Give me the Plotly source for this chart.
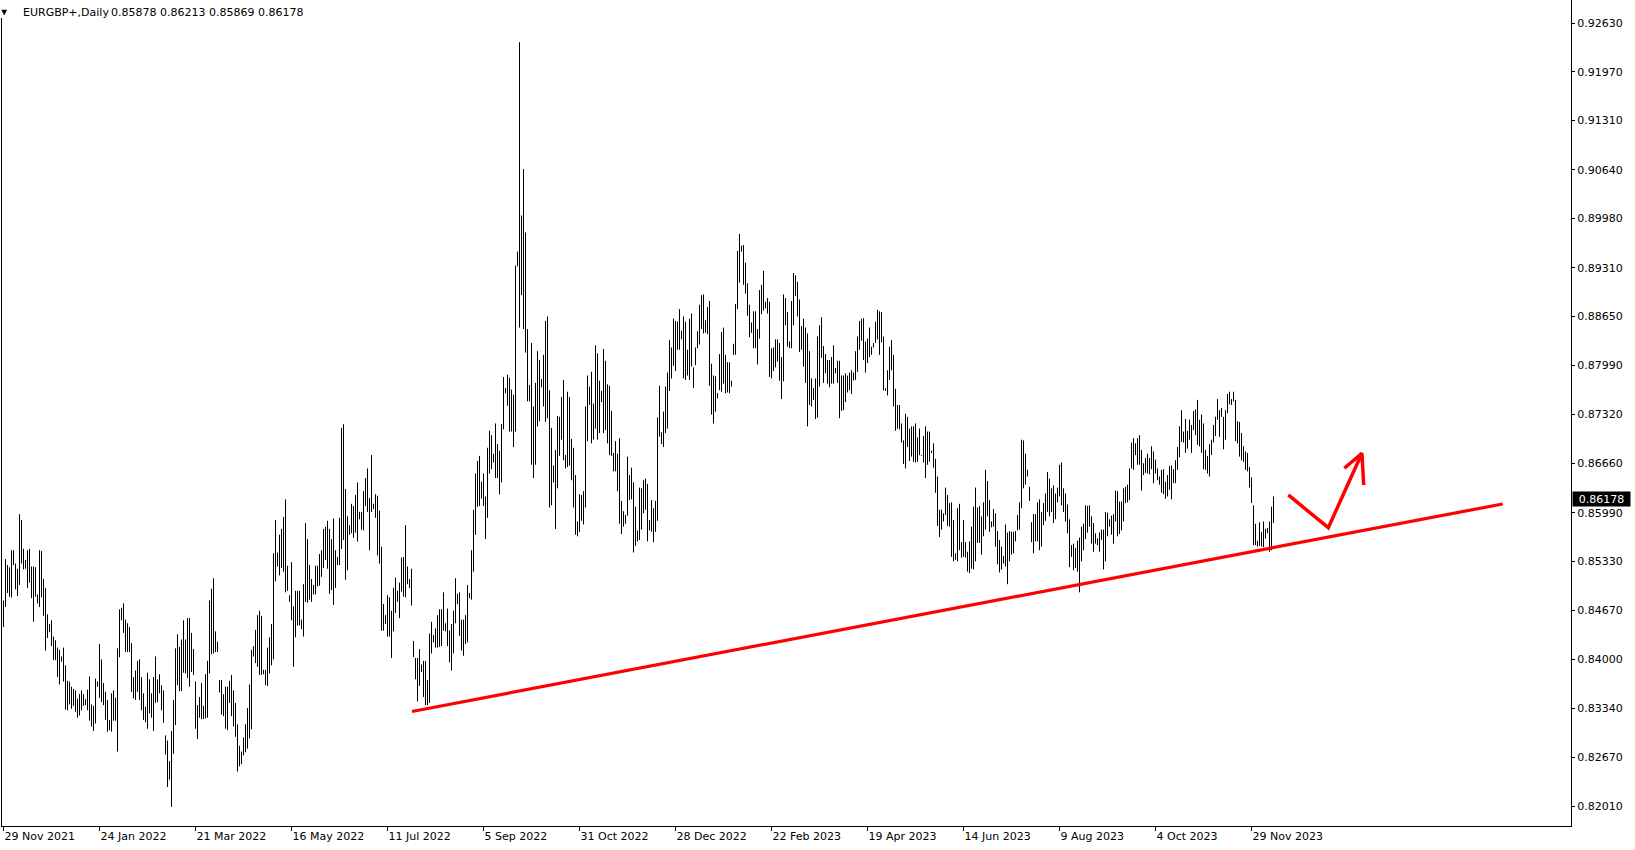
import plotly.graph_objects as go

symbol_title = "EURGBP+,Daily"
last_ohlc_text = "0.85878 0.86213 0.85869 0.86178"
last_close = 0.86178

highs = [
    0.8480,0.8536,0.8528,0.8525,0.8548,0.8548,0.8530,0.8523,0.8597,0.8589,
    0.8550,0.8535,0.8548,0.8550,0.8526,0.8526,0.8525,0.8488,0.8548,0.8547,
    0.8509,0.8497,0.8461,0.8448,0.8453,0.8431,0.8426,0.8416,0.8413,0.8404,
    0.8416,0.8392,0.8371,0.8370,0.8363,0.8360,0.8358,0.8347,0.8353,0.8358,
    0.8353,0.8346,0.8359,0.8377,0.8339,0.8337,0.8374,0.8370,0.8421,0.8400,
    0.8368,0.8356,0.8345,0.8318,0.8354,0.8358,0.8348,0.8415,0.8468,0.8470,
    0.8476,0.8454,0.8449,0.8444,0.8422,0.8376,0.8385,0.8398,0.8400,0.8376,
    0.8354,0.8336,0.8382,0.8373,0.8354,0.8376,0.8404,0.8373,0.8380,0.8365,
    0.8358,0.8297,0.8290,0.8262,0.8303,0.8345,0.8415,0.8434,0.8417,0.8427,
    0.8453,0.8427,0.8456,0.8456,0.8436,0.8414,0.8370,0.8338,0.8349,0.8368,
    0.8337,0.8380,0.8398,0.8480,0.8496,0.8510,0.8438,0.8424,0.8372,0.8372,
    0.8353,0.8363,0.8363,0.8371,0.8379,0.8358,0.8341,0.8312,0.8283,0.8275,
    0.8294,0.8312,0.8334,0.8366,0.8413,
    0.8418,0.8440,0.8460,0.8466,0.8459,0.8386,0.8386,0.8416,0.8430,0.8448,
    0.8544,0.8589,0.8545,0.8569,0.8577,0.8593,0.8617,0.8527,0.8487,0.8532,
    0.8472,0.8493,0.8493,0.8493,0.8454,0.8502,0.8585,0.8563,0.8528,0.8509,
    0.8501,0.8527,0.8527,0.8543,0.8548,0.8577,0.8580,0.8588,0.8577,0.8563,
    0.8591,0.8548,0.8539,0.8592,0.8714,0.8719,0.8631,0.8594,0.8582,0.8611,
    0.8608,0.8623,0.8640,0.8600,0.8600,0.8628,0.8646,0.8659,0.8619,0.8677,
    0.8611,0.8624,0.8622,0.8602,0.8553,0.8475,0.8460,0.8487,0.8484,0.8466,
    0.8497,0.8511,0.8493,0.8504,0.8538,0.8539,0.8582,0.8526,0.8509,0.8523,
    0.8425,0.8402,0.8402,0.8414,
    0.8393,0.8398,0.8398,0.8372,0.8435,0.8451,0.8433,0.8442,0.8460,0.8468,
    0.8468,0.8491,0.8449,0.8469,0.8439,0.8448,0.8466,0.8510,0.8489,0.8491,
    0.8454,0.8454,0.8460,0.8501,0.8490,0.8548,0.8603,
    0.8652,0.8669,0.8676,0.8641,0.8652,0.8621,0.8687,0.8710,0.8704,0.8679,
    0.8720,0.8692,0.8683,0.8719,0.8783,0.8768,0.8786,0.8782,0.8766,0.8759,
    0.8934,0.8953,0.9237,0.9002,0.9065,0.8979,0.8848,0.8772,0.8829,0.8743,
    0.8775,0.8818,0.8806,0.8780,0.8813,0.8859,0.8865,0.8765,0.8714,0.8663,
    0.8684,0.8730,0.8729,0.8756,0.8779,0.8677,0.8763,0.8756,0.8699,0.8687,
    0.8650,0.8587,0.8624,0.8623,0.8628,0.8743,0.8785,0.8770,0.8790,0.8747,
    0.8826,0.8815,0.8778,0.8764,0.8821,0.8805,0.8773,0.8771,0.8737,0.8680,
    0.8696,0.8679,0.8700,0.8615,0.8601,0.8596,0.8675,0.8650,0.8660,0.8640,
    0.8607,0.8575,0.8633,0.8632,0.8643,0.8645,0.8638,0.8589,0.8616,0.8605,
    0.8615,0.8728,0.8771,0.8708,0.8736,0.8770,0.8789,0.8833,0.8823,0.8862,
    0.8859,0.8858,0.8875,
    0.8846,0.8865,0.8858,0.8820,0.8862,0.8869,0.8796,0.8823,0.8845,0.8881,
    0.8894,0.8895,0.8860,0.8878,0.8886,0.8801,0.8785,0.8784,0.8761,0.8814,
    0.8844,0.8850,0.8813,0.8803,0.8803,0.8778,0.8828,0.8882,0.8954,0.8977,
    0.8961,0.8962,0.8938,0.8910,0.8881,0.8857,0.8872,0.8872,0.8848,0.8901,
    0.8908,0.8927,0.8885,0.8890,0.8885,0.8822,0.8823,0.8834,0.8834,0.8829,
    0.8810,0.8895,0.8890,0.8871,0.8831,0.8886,0.8924,0.8921,0.8912,0.8888,
    0.8852,0.8862,0.8850,0.8842,0.8818,0.8781,0.8768,0.8781,0.8838,0.8853,
    0.8864,0.8825,0.8814,0.8806,0.8806,0.8810,0.8826,0.8795,0.8805,0.8805,
    0.8785,0.8785,0.8788,0.8785,0.8789,0.8792,0.8789,0.8818,0.8838,0.8859,
    0.8862,0.8863,0.8831,0.8835,0.8850,0.8824,0.8829,0.8858,0.8874,0.8872,
    0.8871,0.8838,0.8768,0.8792,0.8824,0.8833,0.8813,0.8767,0.8745,0.8745,
    0.8720,0.8697,0.8733,0.8729,0.8713,0.8716,0.8716,0.8720,0.8701,0.8713,0.8677,
    0.8703,0.8716,0.8709,0.8709,0.8683,0.8693,0.8672,0.8648,0.8603,0.8603,
    0.8598,0.8633,0.8623,0.8612,0.8613,0.8589,0.8544,0.8605,
    0.8611,0.8559,0.8589,0.8559,0.8546,0.8560,0.8580,0.8607,0.8633,0.8606,
    0.8608,0.8594,0.8613,0.8657,0.8642,0.8616,0.8587,0.8604,0.8598,0.8574,
    0.8562,0.8553,0.8540,0.8583,0.8572,0.8574,0.8573,0.8573,0.8574,0.8596,
    0.8613,0.8698,0.8697,0.8679,0.8657,0.8634,0.8586,0.8597,0.8597,0.8613,
    0.8617,0.8600,0.8612,0.8625,0.8654,0.8645,0.8632,0.8636,0.8625,0.8633,
    0.8664,0.8667,0.8632,0.8625,0.8610,0.8590,0.8555,0.8557,0.8551,0.8561,
    0.8565,0.8580,0.8584,0.8609,0.8608,0.8609,0.8594,0.8585,0.8571,0.8564,
    0.8572,0.8576,0.8576,0.8600,0.8599,0.8590,0.8595,0.8597,0.8629,0.8628,
    0.8614,0.8614,0.8632,0.8634,0.8637,0.8659,0.8694,0.8700,0.8693,0.8700,
    0.8704,0.8684,0.8666,0.8673,0.8679,0.8673,0.8689,0.8682,0.8671,0.8659,
    0.8648,0.8657,0.8658,0.8641,0.8650,0.8662,0.8663,0.8658,0.8670,0.8688,
    0.8716,0.8738,0.8709,0.8726,0.8710,0.8725,0.8718,0.8737,0.8739,0.8752,
    0.8725,0.8732,0.8720,0.8684,0.8676,0.8692,0.8698,0.8718,0.8729,0.8753,
    0.8738,0.8741,0.8729,0.8738,0.8760,0.8763,0.8753,0.8763,0.8752,0.8723,
    0.8722,0.8707,0.8689,0.8682,0.8680,0.8661,0.8647,0.8609,0.8584,0.8561,
    0.8586,0.8573,0.8587,0.8577,0.8578,0.8587,0.8607,0.8621,
]

lows = [
    0.8444,0.8471,0.8490,0.8485,0.8484,0.8528,0.8495,0.8486,0.8501,0.8530,
    0.8522,0.8523,0.8497,0.8504,0.8483,0.8451,0.8485,0.8476,0.8471,0.8484,
    0.8459,0.8412,0.8429,0.8437,0.8418,0.8399,0.8399,0.8376,0.8366,0.8397,
    0.8370,0.8332,0.8331,0.8339,0.8333,0.8337,0.8329,0.8321,0.8324,0.8331,
    0.8337,0.8338,0.8331,0.8317,0.8309,0.8303,0.8313,0.8363,0.8348,0.8342,
    0.8338,0.8318,0.8302,0.8304,0.8302,0.8317,0.8317,0.8275,0.8403,0.8453,
    0.8436,0.8410,0.8410,0.8410,0.8356,0.8347,0.8345,0.8356,0.8345,0.8331,
    0.8318,0.8315,0.8306,0.8327,0.8321,0.8303,0.8341,0.8342,0.8354,0.8331,
    0.8314,0.8271,0.8227,0.8237,0.8200,0.8272,0.8311,0.8365,0.8357,0.8357,
    0.8382,0.8381,0.8375,0.8363,0.8383,0.8379,0.8306,0.8292,0.8321,0.8319,
    0.8319,0.8320,0.8321,0.8381,0.8407,0.8408,0.8410,0.8410,0.8355,0.8325,
    0.8323,0.8306,0.8304,0.8341,0.8323,0.8309,0.8295,0.8248,0.8255,0.8258,
    0.8270,0.8274,0.8279,0.8293,0.8305,
    0.8404,0.8395,0.8390,0.8379,0.8379,0.8380,0.8365,0.8364,0.8381,0.8392,
    0.8400,0.8506,0.8526,0.8514,0.8524,0.8519,0.8491,0.8493,0.8478,0.8453,
    0.8390,0.8430,0.8446,0.8446,0.8441,0.8431,0.8478,0.8477,0.8481,0.8478,
    0.8488,0.8488,0.8499,0.8500,0.8512,0.8524,0.8535,0.8523,0.8489,0.8494,
    0.8474,0.8497,0.8528,0.8528,0.8550,0.8562,0.8508,0.8521,0.8569,0.8571,
    0.8565,0.8572,0.8560,0.8590,0.8576,0.8575,0.8608,0.8600,0.8548,0.8600,
    0.8604,0.8592,0.8541,0.8530,0.8439,0.8439,0.8448,0.8431,0.8431,0.8402,
    0.8438,0.8463,0.8478,0.8456,0.8492,0.8485,0.8484,0.8502,0.8497,0.8473,
    0.8403,0.8373,0.8343,0.8364,
    0.8383,0.8349,0.8338,0.8338,0.8341,0.8408,0.8423,0.8416,0.8416,0.8417,
    0.8418,0.8439,0.8438,0.8418,0.8396,0.8385,0.8408,0.8449,0.8475,0.8432,
    0.8412,0.8405,0.8421,0.8423,0.8483,0.8481,0.8519,
    0.8569,0.8607,0.8608,0.8618,0.8608,0.8563,0.8592,0.8652,0.8658,0.8667,
    0.8646,0.8646,0.8624,0.8640,0.8712,0.8761,0.8744,0.8709,0.8709,0.8688,
    0.8709,0.8933,0.8850,0.8894,0.8848,0.8816,0.8750,0.8750,0.8664,0.8646,
    0.8664,0.8716,0.8723,0.8769,0.8743,0.8722,0.8727,0.8606,0.8609,0.8640,
    0.8577,0.8632,0.8676,0.8698,0.8670,0.8659,0.8661,0.8663,0.8643,0.8606,
    0.8569,0.8567,0.8573,0.8588,0.8583,0.8606,0.8696,0.8745,0.8693,0.8698,
    0.8713,0.8698,0.8707,0.8749,0.8707,0.8711,0.8693,0.8677,0.8676,0.8655,
    0.8655,0.8628,0.8584,0.8570,0.8580,0.8584,0.8595,0.8616,0.8617,0.8545,
    0.8554,0.8560,0.8562,0.8576,0.8598,0.8603,0.8560,0.8575,0.8573,0.8559,
    0.8573,0.8588,0.8702,0.8692,0.8688,0.8707,0.8713,0.8764,0.8781,0.8798,
    0.8791,0.8820,0.8820,
    0.8834,0.8781,0.8779,0.8785,0.8779,0.8797,0.8768,0.8799,0.8822,0.8827,
    0.8848,0.8842,0.8843,0.8841,0.8771,0.8732,0.8720,0.8736,0.8754,0.8765,
    0.8763,0.8774,0.8761,0.8762,0.8761,0.8770,0.8813,0.8813,0.8875,0.8911,
    0.8953,0.8908,0.8896,0.8866,0.8837,0.8843,0.8822,0.8822,0.8800,0.8835,
    0.8868,0.8873,0.8876,0.8869,0.8783,0.8781,0.8791,0.8796,0.8804,0.8778,
    0.8753,0.8777,0.8853,0.8824,0.8822,0.8822,0.8853,0.8893,0.8865,0.8817,
    0.8820,0.8797,0.8775,0.8716,0.8745,0.8743,0.8752,0.8726,0.8728,0.8770,
    0.8809,0.8775,0.8788,0.8774,0.8769,0.8774,0.8774,0.8788,0.8775,0.8727,
    0.8737,0.8738,0.8749,0.8762,0.8765,0.8760,0.8778,0.8779,0.8790,0.8820,
    0.8832,0.8806,0.8789,0.8802,0.8810,0.8813,0.8823,0.8829,0.8834,0.8813,
    0.8830,0.8765,0.8764,0.8758,0.8779,0.8792,0.8743,0.8710,0.8713,0.8712,
    0.8694,0.8665,0.8659,0.8688,0.8669,0.8675,0.8668,0.8667,0.8668,0.8677,0.8676,
    0.8667,0.8646,0.8664,0.8668,0.8680,0.8660,0.8626,0.8581,0.8566,0.8576,
    0.8587,0.8596,0.8581,0.8580,0.8539,0.8533,0.8535,0.8533,
    0.8548,0.8538,0.8539,0.8538,0.8519,0.8517,0.8523,0.8522,0.8533,0.8558,
    0.8558,0.8542,0.8567,0.8576,0.8594,0.8573,0.8579,0.8580,0.8553,0.8529,
    0.8518,0.8522,0.8530,0.8526,0.8502,0.8533,0.8542,0.8544,0.8560,0.8575,
    0.8576,0.8605,0.8632,0.8637,0.8648,0.8615,0.8559,0.8544,0.8560,0.8560,
    0.8548,0.8553,0.8582,0.8588,0.8600,0.8594,0.8600,0.8585,0.8590,0.8613,
    0.8621,0.8609,0.8600,0.8587,0.8571,0.8525,0.8539,0.8521,0.8524,0.8519,
    0.8491,0.8533,0.8548,0.8563,0.8572,0.8580,0.8557,0.8546,0.8557,0.8555,
    0.8546,0.8562,0.8522,0.8533,0.8567,0.8580,0.8569,0.8557,0.8587,0.8567,
    0.8570,0.8575,0.8587,0.8612,0.8613,0.8616,0.8659,0.8657,0.8677,0.8664,
    0.8664,0.8629,0.8650,0.8653,0.8652,0.8651,0.8658,0.8639,0.8652,0.8643,
    0.8637,0.8626,0.8624,0.8618,0.8621,0.8630,0.8617,0.8639,0.8639,0.8657,
    0.8674,0.8695,0.8694,0.8680,0.8686,0.8698,0.8680,0.8711,0.8704,0.8691,
    0.8689,0.8680,0.8658,0.8657,0.8652,0.8648,0.8677,0.8694,0.8703,0.8725,
    0.8702,0.8729,0.8685,0.8698,0.8734,0.8746,0.8745,0.8750,0.8696,0.8693,
    0.8675,0.8670,0.8668,0.8657,0.8655,0.8633,0.8612,0.8555,0.8555,0.8553,
    0.8554,0.8553,0.8552,0.8564,0.8571,0.8546,0.8548,0.8585,
]

date_tick_index = [0, 48, 96, 144, 192, 240, 288, 336, 384, 432, 480, 528, 576, 624]
date_tick_text = ["29 Nov 2021", "24 Jan 2022", "21 Mar 2022", "16 May 2022",
                  "11 Jul 2022", "5 Sep 2022", "31 Oct 2022", "28 Dec 2022",
                  "22 Feb 2023", "19 Apr 2023", "14 Jun 2023", "9 Aug 2023",
                  "4 Oct 2023", "29 Nov 2023"]
price_ticks = [0.92630, 0.91970, 0.91310, 0.90640, 0.89980, 0.89310, 0.88650,
               0.87990, 0.87320, 0.86660, 0.85990, 0.85330, 0.84670, 0.84000,
               0.83340, 0.82670, 0.82010]

# support trendline and hand-drawn arrow (bar index, price)
trend_x = [204.2, 749.6]
trend_y = [0.83294, 0.86108]
arrow_x = [642.4, 662.4, 679.2]
arrow_y = [0.86230, 0.85786, 0.86795]
arrow_head_x = [670.4, 679.2, 680.1]
arrow_head_y = [0.86592, 0.86795, 0.86365]

FONT = "DejaVu Sans"
W, H = 1635, 850
ML, MR, MT, MB = 2, 64, 0, 24
PW = W - ML - MR
PH = H - MT - MB

bx, by = [], []
for i, (h, l) in enumerate(zip(highs, lows)):
    bx += [i, i, None]
    by += [l, h, None]

fig = go.Figure()
fig.add_trace(go.Scatter(x=bx, y=by, mode="lines", line=dict(color="#000000", width=1),
                         connectgaps=False, hoverinfo="skip", showlegend=False))
fig.add_trace(go.Scatter(x=trend_x, y=trend_y, mode="lines",
                         line=dict(color="#ff0000", width=3.2), showlegend=False))
fig.add_trace(go.Scatter(x=arrow_x, y=arrow_y, mode="lines",
                         line=dict(color="#ff0000", width=3.5), showlegend=False))
fig.add_trace(go.Scatter(x=arrow_head_x, y=arrow_head_y, mode="lines",
                         line=dict(color="#ff0000", width=3.5), showlegend=False))

fig.update_layout(
    width=W, height=H,
    margin=dict(l=ML, r=MR, t=MT, b=MB),
    paper_bgcolor="white", plot_bgcolor="white",
    font=dict(family=FONT, size=11, color="black"),
    showlegend=False,
    xaxis=dict(range=[-0.75, -0.75 + PW / 2.0], showgrid=False, zeroline=False,
               showline=True, linecolor="black", linewidth=1, mirror=False,
               ticks="outside", ticklen=4, tickcolor="black", tickwidth=1,
               tickvals=date_tick_index, ticktext=date_tick_text,
               ticklabelposition="outside right",
               tickfont=dict(family=FONT, size=11, color="black")),
    yaxis=dict(range=[0.81741, 0.92942], side="right", showgrid=False, zeroline=False,
               showline=True, linecolor="black", linewidth=1, mirror=True,
               ticks="outside", ticklen=3, tickcolor="black", tickwidth=1,
               tickvals=price_ticks, ticktext=["%.5f" % v for v in price_ticks],
               tickfont=dict(family=FONT, size=11, color="black")),
)

# title in top-left corner
fig.add_shape(type="rect", xref="paper", yref="paper",
              x0=-2.0 / PW, x1=8.0 / PW, y0=1 - 18.0 / PH, y1=1.0,
              fillcolor="white", line=dict(width=0), layer="above")
fig.add_shape(type="path", xref="paper", yref="paper",
              path="M %f %f L %f %f L %f %f Z" % (
                  (1.7 - ML) / PW, 1 - 10.0 / PH,
                  (6.7 - ML) / PW, 1 - 10.0 / PH,
                  (4.2 - ML) / PW, 1 - 15.0 / PH),
              fillcolor="black", line=dict(color="black", width=0.5), layer="above")
fig.add_annotation(text=symbol_title, xref="paper", yref="paper", x=0, y=1,
                   xanchor="left", yanchor="middle", xshift=18.5, yshift=-12.3,
                   showarrow=False, font=dict(family=FONT, size=11, color="black"))
fig.add_annotation(text=last_ohlc_text.replace(" ", "\u00a0"), xref="paper", yref="paper",
                   x=0, y=1, xanchor="left", yanchor="middle", xshift=106.5, yshift=-12.3,
                   showarrow=False, font=dict(family=FONT, size=11, color="black"))

# current price box on the price axis
fig.add_annotation(text="%.5f" % last_close, xref="paper", yref="y", x=1, y=last_close,
                   xanchor="left", yanchor="middle", xshift=1, showarrow=False,
                   bgcolor="black", width=57, height=14, borderpad=0,
                   font=dict(family=FONT, size=11, color="white"))

fig.write_html("out.html",
               config={"displayModeBar": False},
               post_script="document.body.style.margin='0';document.body.style.padding='0';"
                           "document.body.style.overflow='hidden';")
